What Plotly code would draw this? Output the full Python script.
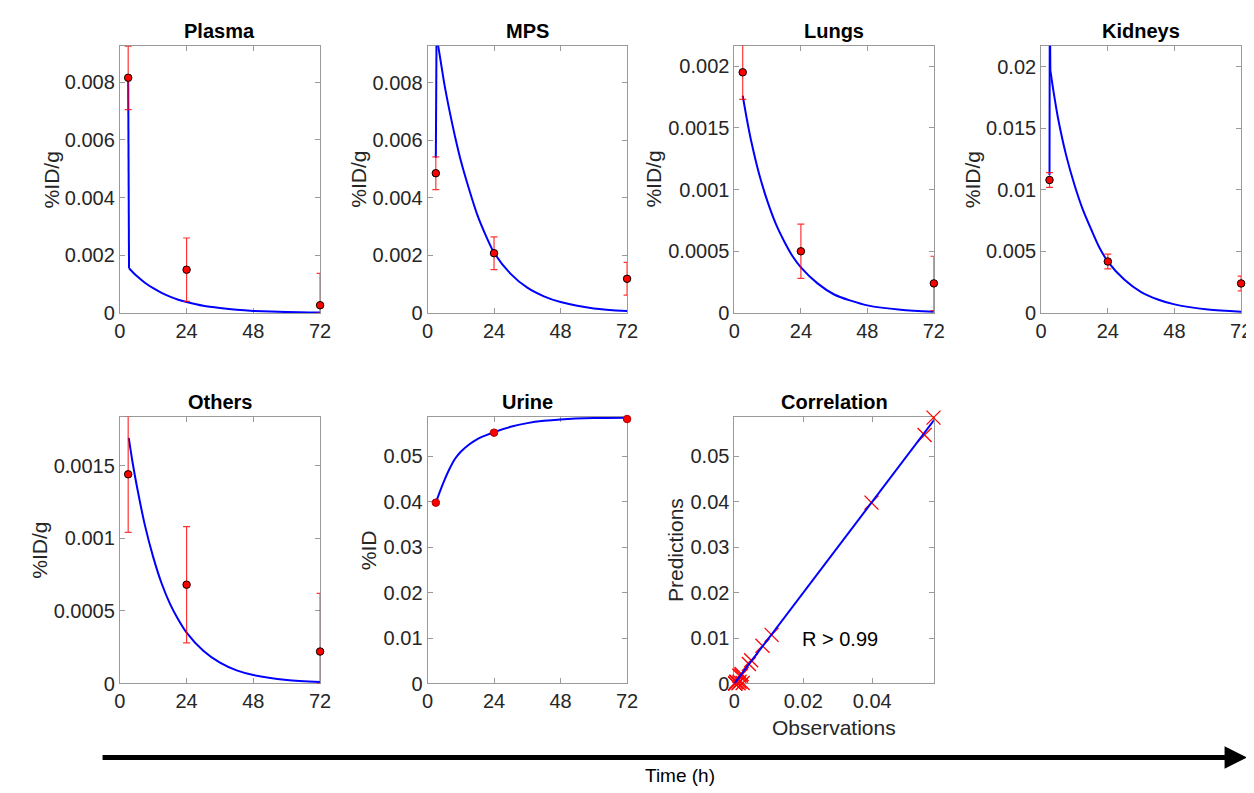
import plotly.graph_objects as go

W, H = 1254, 793

# observation times (h)
t_obs = [3, 24, 72]

# measured means and SDs
plasma_obs = [0.00815, 0.0015, 0.00027]
plasma_sd = [0.0011, 0.0011, 0.0011]
mps_obs = [0.00486, 0.00208, 0.00119]
mps_sd = [0.00057, 0.00057, 0.00057]
lungs_obs = [0.00195, 0.0005, 0.00024]
lungs_sd = [0.00022, 0.00022, 0.00022]
kidneys_obs = [0.0108, 0.00418, 0.0024]
kidneys_sd = [0.0006, 0.0006, 0.0006]
others_obs = [0.00144, 0.00068, 0.00022]
others_sd = [0.0004, 0.0004, 0.0004]
urine_obs = [0.0398, 0.0552, 0.0582]
urine_sd = [0.0003, 0.0003, 0.0003]

# model curves (first n points = initial jump, drawn straight)
plasma_t = [3, 3.3, 4.5, 6, 9, 12, 15, 18, 21, 24, 30, 36, 42, 48, 60, 72]
plasma_fit = [0.0081, 0.00155, 0.00143, 0.00129, 0.00105, 0.00086, 0.0007, 0.00057, 0.00046, 0.00038,
              0.00025, 0.00017, 0.00011, 0.000074, 0.000033, 0.000015]
mps_t = [3, 3.25, 4, 5, 6, 8, 10, 12, 15, 18, 21, 24, 30, 36, 42, 48, 60, 72]
mps_fit = [0.0054, 0.0096, 0.0092, 0.0086, 0.0080, 0.0070, 0.0061, 0.0053, 0.0043, 0.0034, 0.0027, 0.0021,
           0.00136, 0.00088, 0.00058, 0.00038, 0.00016, 0.00007]
lungs_t = [3, 4.5, 6, 9, 12, 15, 18, 21, 24, 30, 36, 42, 48, 60, 72]
lungs_fit = [0.00176, 0.00157, 0.0014, 0.00112, 0.0009, 0.00072, 0.00058, 0.00046, 0.00037, 0.00024,
             0.00015, 0.0001, 0.000062, 0.000026, 0.00001]
kidneys_t = [3, 3.1, 3.3, 4.5, 6, 9, 12, 15, 18, 21, 24, 30, 36, 42, 48, 60, 72]
kidneys_fit = [0.0112, 0.026, 0.0197, 0.0179, 0.0159, 0.0128, 0.0104, 0.0084, 0.0068, 0.0053, 0.00418,
               0.0027, 0.0017, 0.0011, 0.0007, 0.00028, 0.00011]
others_t = [3.2, 4.5, 6, 9, 12, 15, 18, 21, 24, 30, 36, 42, 48, 60, 72]
others_fit = [0.00169, 0.00153, 0.00137, 0.00109, 0.00087, 0.00069, 0.00055, 0.00044, 0.00035, 0.000225,
              0.000143, 0.00009, 0.000058, 0.000024, 0.00001]
urine_t = [3, 4.5, 6, 8, 10, 12, 15, 18, 21, 24, 30, 36, 42, 48, 60, 72]
urine_fit = [0.0398, 0.0423, 0.0446, 0.0473, 0.0495, 0.051, 0.0526, 0.0538, 0.0546, 0.0553, 0.0565,
             0.0573, 0.0578, 0.0581, 0.0584, 0.0585]
jump_pts = [2, 2, 0, 3, 0, 0]

# correlation panel
corr_obs = [0.00815, 0.0015, 0.00027, 0.00486, 0.00208, 0.00119, 0.00195, 0.0005, 0.00024,
            0.0108, 0.0042, 0.0024, 0.00144, 0.00068, 0.00022, 0.0398, 0.0552, 0.0578]
corr_pred = [0.0083, 0.00038, 0.00002, 0.0051, 0.0021, 0.00007, 0.00176, 0.00037, 0.00001,
             0.0107, 0.0043, 0.00011, 0.00169, 0.00035, 0.00001, 0.0398, 0.0547, 0.0585]
corr_line_x = [0, 0.0585]
corr_line_y = [0, 0.0585]

titles = ['Plasma', 'MPS', 'Lungs', 'Kidneys', 'Others', 'Urine', 'Correlation']
ylabels = ['%ID/g', '%ID/g', '%ID/g', '%ID/g', '%ID/g', '%ID', 'Predictions']
time_ticks = [0, 24, 48, 72]
ytick_sets = [
    [0, 0.002, 0.004, 0.006, 0.008],
    [0, 0.002, 0.004, 0.006, 0.008],
    [0, 0.0005, 0.001, 0.0015, 0.002],
    [0, 0.005, 0.01, 0.015, 0.02],
    [0, 0.0005, 0.001, 0.0015],
    [0, 0.01, 0.02, 0.03, 0.04, 0.05],
    [0, 0.01, 0.02, 0.03, 0.04, 0.05],
]
corr_xticks = [0, 0.02, 0.04]

FONT = 'Liberation Sans, Arial, Helvetica, sans-serif'
TXT = '#262626'


def px(x):
    return x / W


def py(y):
    return 1 - y / H


# panel boxes in pixels: (left, right), (top, bottom)
cols = [(107.3, 310.3), (419.2, 621.5), (730.3, 932.5), (1041.3, 1244)]
rows = [(38.3, 309.3), (414.5, 685)]
boxes = [(cols[0], rows[0]), (cols[1], rows[0]), (cols[2], rows[0]), (cols[3], rows[0]),
         (cols[0], rows[1]), (cols[1], rows[1]), (cols[2], rows[1])]
yranges = [[0, 0.00926], [0, 0.00929], [0, 0.002165], [0, 0.0217], [0, 0.001836], [0, 0.0587], [0, 0.0587]]
ytitle_x = [37.5, 349, 648, 972, 25, 359, 670]

fig = go.Figure()


def ax(i, kind):
    return kind if i == 1 else f'{kind}{i}'


series = [
    (plasma_t, plasma_fit, plasma_obs, plasma_sd),
    (mps_t, mps_fit, mps_obs, mps_sd),
    (lungs_t, lungs_fit, lungs_obs, lungs_sd),
    (kidneys_t, kidneys_fit, kidneys_obs, kidneys_sd),
    (others_t, others_fit, others_obs, others_sd),
    (urine_t, urine_fit, urine_obs, urine_sd),
]

for i, (tt, fit, obs, sd) in enumerate(series, start=1):
    xa, ya = ax(i, 'x'), ax(i, 'y')
    n = jump_pts[i - 1]
    if n:
        fig.add_trace(go.Scatter(x=tt[:n], y=fit[:n], mode='lines', line=dict(color='#0000ff', width=2),
                                 xaxis=xa, yaxis=ya, showlegend=False))
    k = max(n - 1, 0)
    fig.add_trace(go.Scatter(x=tt[k:], y=fit[k:], mode='lines',
                             line=dict(color='#0000ff', width=2, shape='spline', smoothing=0.8),
                             xaxis=xa, yaxis=ya, showlegend=False))
    # lower whisker stops at the x axis, like the clipped bars in the original
    lower = [min(s, m) for s, m in zip(sd, obs)]
    fig.add_trace(go.Scatter(x=t_obs, y=obs, mode='markers',
                             marker=dict(color='rgba(0,0,0,0)', size=1),
                             error_y=dict(type='data', symmetric=False, array=sd, arrayminus=lower,
                                          color='rgba(255,0,0,0.8)', thickness=1.2, width=3.5),
                             cliponaxis=False, xaxis=xa, yaxis=ya, showlegend=False))
    edge = '#b00000' if i == 6 else 'black'
    fig.add_trace(go.Scatter(x=t_obs, y=obs, mode='markers',
                             marker=dict(color='red', size=7.5, line=dict(color=edge, width=1)),
                             cliponaxis=False, xaxis=xa, yaxis=ya, showlegend=False))

fig.add_trace(go.Scatter(x=corr_obs, y=corr_pred, mode='markers',
                         marker=dict(symbol='x-thin', size=14, line=dict(color='red', width=1.3)),
                         cliponaxis=False, xaxis='x7', yaxis='y7', showlegend=False))
fig.add_trace(go.Scatter(x=corr_line_x, y=corr_line_y, mode='lines', line=dict(color='#0000ff', width=2),
                         xaxis='x7', yaxis='y7', showlegend=False))

layout = dict(width=W, height=H, margin=dict(l=0, r=0, t=0, b=0),
              paper_bgcolor='white', plot_bgcolor='white',
              font=dict(family=FONT, color=TXT, size=20), showlegend=False)

axis_common = dict(showgrid=False, zeroline=False, showline=True, linecolor='#9a9a9a', linewidth=1,
                   mirror='ticks', ticks='inside', ticklen=5, tickcolor='#9a9a9a', layer='below traces',
                   tickfont=dict(family=FONT, size=20, color=TXT))

annotations = []
for i, ((x0, x1), (y0, y1)) in enumerate(boxes, start=1):
    xkey = 'xaxis' if i == 1 else f'xaxis{i}'
    ykey = 'yaxis' if i == 1 else f'yaxis{i}'
    if i == 7:
        xr = [0, 0.0579]
        xt = corr_xticks
    else:
        xr = [0, 72]
        xt = time_ticks
    layout[xkey] = dict(axis_common, domain=[px(x0), px(x1)], range=xr, anchor=ax(i, 'y'),
                        tickmode='array', tickvals=xt, ticktext=[str(v) for v in xt])
    yt = ytick_sets[i - 1]
    layout[ykey] = dict(axis_common, domain=[py(y1), py(y0)], range=yranges[i - 1], anchor=ax(i, 'x'),
                        tickmode='array', tickvals=yt, ticktext=[f'{v:g}' for v in yt])
    # panel title
    annotations.append(dict(text=f'<b>{titles[i - 1]}</b>', x=px((x0 + x1) / 2), y=py(y0),
                            xref='paper', yref='paper', xanchor='center', yanchor='bottom', yshift=2,
                            showarrow=False, font=dict(family=FONT, size=20, color='black')))
    # y axis title
    annotations.append(dict(text=ylabels[i - 1], x=px(ytitle_x[i - 1]), y=py((y0 + y1) / 2),
                            xref='paper', yref='paper', xanchor='center', yanchor='middle',
                            textangle=-90, showarrow=False, font=dict(family=FONT, size=21, color=TXT)))

annotations.append(dict(text='Observations', x=px(831), y=py(730), xref='paper', yref='paper',
                        xanchor='center', yanchor='middle', showarrow=False,
                        font=dict(family=FONT, size=21, color=TXT)))
annotations.append(dict(text='R > 0.99', x=0.0306, y=0.0098, xref='x7', yref='y7',
                        xanchor='center', yanchor='middle', showarrow=False,
                        font=dict(family=FONT, size=20, color='black')))
# time arrow and label
annotations.append(dict(text='', x=px(1250), y=py(760), xref='paper', yref='paper',
                        ax=-(1250 - 104), ay=0, axref='pixel', ayref='pixel',
                        showarrow=True, arrowhead=2, arrowsize=0.9, arrowwidth=5, arrowcolor='black'))
annotations.append(dict(text='Time (h)', x=px(675), y=py(778), xref='paper', yref='paper',
                        xanchor='center', yanchor='middle', showarrow=False,
                        font=dict(family=FONT, size=19, color='black')))

layout['annotations'] = annotations
fig.update_layout(**layout)

fig.write_html('out.html')
